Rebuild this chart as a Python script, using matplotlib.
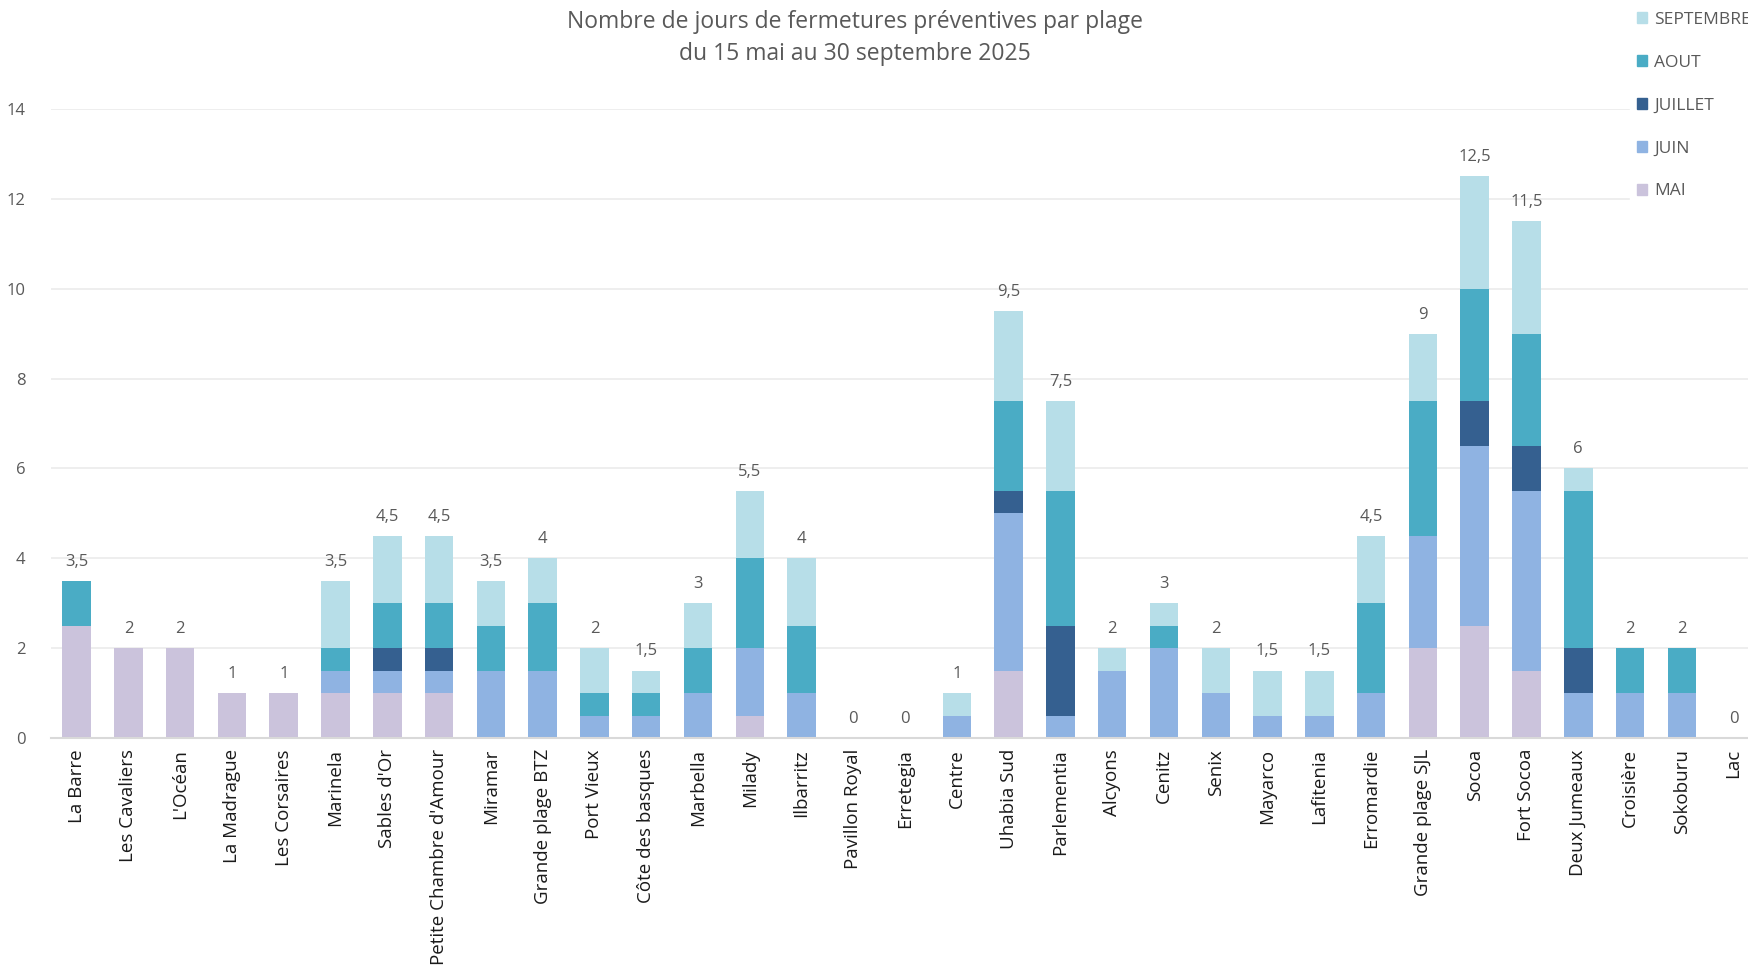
import matplotlib
matplotlib.use("Agg")
import matplotlib.pyplot as plt
from matplotlib.patches import Patch
import numpy as np

plt.rcParams['font.family'] = ['Open Sans', 'DejaVu Sans']

# Plages (ordre de l'axe)
plages = [
    "La Barre", "Les Cavaliers", "L'Océan", "La Madrague", "Les Corsaires",
    "Marinela", "Sables d'Or", "Petite Chambre d'Amour", "Miramar",
    "Grande plage BTZ", "Port Vieux", "Côte des basques", "Marbella",
    "Milady", "Ilbarritz", "Pavillon Royal", "Erretegia", "Centre",
    "Uhabia Sud", "Parlementia", "Alcyons", "Cenitz", "Senix", "Mayarco",
    "Lafitenia", "Erromardie", "Grande plage SJL", "Socoa", "Fort Socoa",
    "Deux Jumeaux", "Croisière", "Sokoburu", "Lac",
]

# jours de fermeture par mois
mai = [2.5, 2, 2, 1, 1, 1, 1, 1, 0, 0, 0, 0, 0, 0.5, 0, 0, 0, 0,
       1.5, 0, 0, 0, 0, 0, 0, 0, 2, 2.5, 1.5, 0, 0, 0, 0]
juin = [0, 0, 0, 0, 0, 0.5, 0.5, 0.5, 1.5, 1.5, 0.5, 0.5, 1, 1.5, 1, 0, 0, 0.5,
        3.5, 0.5, 1.5, 2, 1, 0.5, 0.5, 1, 2.5, 4, 4, 1, 1, 1, 0]
juillet = [0, 0, 0, 0, 0, 0, 0.5, 0.5, 0, 0, 0, 0, 0, 0, 0, 0, 0, 0,
           0.5, 2, 0, 0, 0, 0, 0, 0, 0, 1, 1, 1, 0, 0, 0]
aout = [1, 0, 0, 0, 0, 0.5, 1, 1, 1, 1.5, 0.5, 0.5, 1, 2, 1.5, 0, 0, 0,
        2, 3, 0, 0.5, 0, 0, 0, 2, 3, 2.5, 2.5, 3.5, 1, 1, 0]
septembre = [0, 0, 0, 0, 0, 1.5, 1.5, 1.5, 1, 1, 1, 0.5, 1, 1.5, 1.5, 0, 0, 0.5,
             2, 2, 0.5, 0.5, 1, 1, 1, 1.5, 1.5, 2.5, 2.5, 0.5, 0, 0, 0]

mois = ["MAI", "JUIN", "JUILLET", "AOUT", "SEPTEMBRE"]
series = [mai, juin, juillet, aout, septembre]
couleurs = ["#CBC3DC", "#8FB3E2", "#356090", "#4AACC5", "#B7DEE8"]

fig = plt.figure(figsize=(17.49, 9.69), dpi=100)
ax = fig.add_axes([0.029, 0.2384, 0.977, 0.649])

x = np.arange(len(plages))
bottom = np.zeros(len(plages))
for vals, col in zip(series, couleurs):
    ax.bar(x, vals, 0.55, bottom=bottom, color=col, linewidth=0)
    bottom += np.array(vals)

# totaux au-dessus des barres
for xi, tot in zip(x, bottom):
    txt = ("%g" % tot).replace(".", ",")
    ax.annotate(txt, (xi, tot), xytext=(0, 8), textcoords="offset points",
                ha="center", va="bottom", fontsize=12, color="#595959")

ax.set_xlim(-0.5, len(plages) - 0.5)
ax.set_ylim(0, 14)
ax.set_yticks(range(0, 15, 2))
ax.set_xticks(x)
ax.set_xticklabels(plages, rotation=90, fontsize=13.5, color="#1a1a1a")
ax.tick_params(axis="y", labelsize=12, labelcolor="#595959", length=0, pad=18)
ax.tick_params(axis="x", length=0, pad=8)
ax.yaxis.grid(True, color="#EBEBEB", linewidth=1.2)
ax.set_axisbelow(True)
for s in ["top", "right", "left"]:
    ax.spines[s].set_visible(False)
ax.spines["bottom"].set_color("#D9D9D9")
ax.spines["bottom"].set_linewidth(1.5)

fig.text(0.489, 0.99, "Nombre de jours de fermetures préventives par plage\n"
         "du 15 mai au 30 septembre 2025", ha="center", va="top",
         fontsize=16.5, color="#595959", linespacing=1.45)

handles = [Patch(color=c, label=m) for m, c in zip(mois, couleurs)][::-1]
leg = fig.legend(handles=handles, loc="upper left", bbox_to_anchor=(0.932, 0.995),
                 frameon=True, fontsize=12.5, handlelength=0.6, handleheight=0.6,
                 handletextpad=0.4, labelspacing=1.55, borderaxespad=0)
leg.get_frame().set_facecolor("white")
leg.get_frame().set_edgecolor("white")
leg.get_frame().set_alpha(1)
for t in leg.get_texts():
    t.set_color("#595959")

fig.savefig("out.png", dpi=100)
